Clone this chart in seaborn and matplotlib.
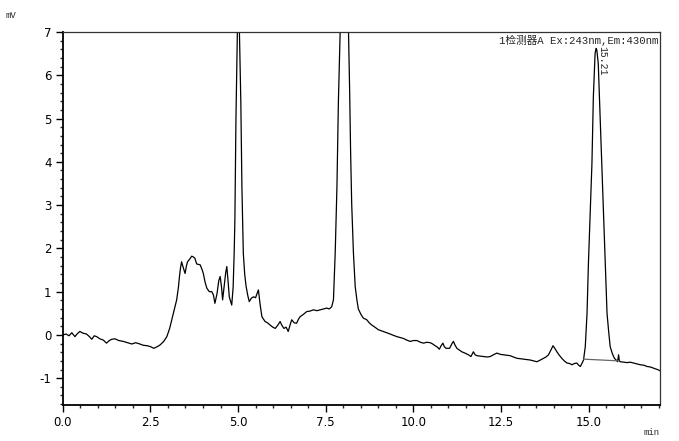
import matplotlib
matplotlib.use('Agg')
import matplotlib.pyplot as plt
import seaborn as sns
from matplotlib.ticker import MultipleLocator, FormatStrFormatter

# chromatogram trace (min, mV); the two big peaks run off scale
time_min = [
    0.00, 0.10, 0.18, 0.26, 0.35, 0.42, 0.49, 0.58, 0.68, 0.75, 0.83, 0.90, 0.97,
    1.06, 1.16, 1.25, 1.33, 1.40, 1.49, 1.60, 1.73, 1.85, 1.97, 2.08, 2.20, 2.30,
    2.41, 2.50, 2.60, 2.70, 2.78, 2.88, 2.97, 3.05, 3.11, 3.18, 3.25, 3.30, 3.33,
    3.36, 3.39, 3.44, 3.49, 3.53, 3.56, 3.62, 3.68, 3.73, 3.77, 3.82, 3.92, 3.97,
    4.01, 4.06, 4.11, 4.18, 4.25, 4.30, 4.34, 4.40, 4.45, 4.49, 4.53, 4.56, 4.60,
    4.65, 4.68, 4.72, 4.75, 4.80, 4.82, 4.86, 4.89, 4.91, 4.94, 4.98, 5.01, 5.04,
    5.08, 5.11, 5.15, 5.19, 5.23, 5.28, 5.32, 5.38, 5.44, 5.50, 5.54, 5.58, 5.63,
    5.68, 5.77, 5.84, 5.91, 5.99, 6.06, 6.13, 6.20, 6.25, 6.31, 6.37, 6.43, 6.48,
    6.53, 6.60, 6.67, 6.72, 6.77, 6.87, 6.96, 7.05, 7.15, 7.25, 7.34, 7.44, 7.53,
    7.60, 7.67, 7.72, 7.77, 7.82, 7.86, 7.91, 8.03, 8.15, 8.18, 8.21, 8.24, 8.29,
    8.34, 8.39, 8.43, 8.50, 8.57, 8.67, 8.74, 8.81, 8.90, 9.00, 9.07, 9.14, 9.24,
    9.34, 9.43, 9.53, 9.62, 9.71, 9.81, 9.91, 10.00, 10.10, 10.20, 10.29, 10.38,
    10.48, 10.55, 10.62, 10.68, 10.74, 10.79, 10.84, 10.88, 10.93, 11.03, 11.10,
    11.14, 11.19, 11.24, 11.31, 11.38, 11.47, 11.57, 11.64, 11.71, 11.76, 11.81,
    11.90, 12.00, 12.10, 12.19, 12.28, 12.38, 12.48, 12.57, 12.66, 12.76, 12.85,
    12.95, 13.05, 13.14, 13.24, 13.33, 13.43, 13.52, 13.62, 13.71, 13.78, 13.85,
    13.92, 13.98, 14.04, 14.09, 14.16, 14.23, 14.30, 14.38, 14.45, 14.52, 14.59,
    14.66, 14.71, 14.76, 14.81, 14.85, 14.90, 14.95, 14.99, 15.04, 15.09, 15.13,
    15.18, 15.21, 15.23, 15.27, 15.32, 15.37, 15.42, 15.47, 15.52, 15.57, 15.61,
    15.67, 15.73, 15.78, 15.82, 15.85, 15.87, 15.90, 16.00, 16.09, 16.18, 16.28,
    16.38, 16.47, 16.57, 16.66, 16.75, 16.85, 16.92, 16.99, 17.03,
]
signal_mv = [
    0.00, 0.02, -0.02, 0.05, -0.04, 0.03, 0.08, 0.04, 0.02, -0.03, -0.10, -0.02, -0.04,
    -0.09, -0.12, -0.19, -0.13, -0.10, -0.09, -0.13, -0.15, -0.18, -0.21, -0.18, -0.21, -0.24,
    -0.25, -0.27, -0.31, -0.27, -0.23, -0.15, -0.04, 0.15, 0.35, 0.58, 0.81, 1.10, 1.35,
    1.55, 1.69, 1.55, 1.42, 1.60, 1.69, 1.75, 1.82, 1.80, 1.77, 1.64, 1.62, 1.52,
    1.42, 1.22, 1.08, 1.00, 1.00, 0.92, 0.73, 0.95, 1.25, 1.35, 1.10, 0.81, 1.10,
    1.45, 1.58, 1.20, 0.88, 0.75, 0.69, 1.10, 1.90, 2.66, 4.97, 6.97, 9.50, 6.97,
    5.36, 3.43, 1.89, 1.40, 1.12, 0.90, 0.77, 0.85, 0.88, 0.86, 0.95, 1.04, 0.70,
    0.42, 0.31, 0.28, 0.23, 0.18, 0.15, 0.22, 0.31, 0.22, 0.15, 0.18, 0.08, 0.22,
    0.35, 0.28, 0.27, 0.36, 0.42, 0.48, 0.54, 0.55, 0.58, 0.56, 0.58, 0.60, 0.62,
    0.60, 0.65, 0.81, 1.89, 3.43, 5.35, 6.97, 12.00, 6.97, 5.73, 4.20, 3.04, 1.89,
    1.12, 0.80, 0.60, 0.48, 0.39, 0.35, 0.28, 0.23, 0.18, 0.12, 0.10, 0.08, 0.05,
    0.02, -0.01, -0.04, -0.06, -0.08, -0.12, -0.15, -0.13, -0.13, -0.17, -0.19, -0.17,
    -0.18, -0.21, -0.25, -0.28, -0.33, -0.25, -0.19, -0.27, -0.31, -0.31, -0.20,
    -0.15, -0.24, -0.31, -0.35, -0.39, -0.42, -0.46, -0.50, -0.39, -0.46, -0.48,
    -0.49, -0.50, -0.51, -0.50, -0.46, -0.42, -0.45, -0.46, -0.47, -0.48, -0.51,
    -0.54, -0.55, -0.56, -0.57, -0.58, -0.60, -0.62, -0.58, -0.54, -0.51, -0.46,
    -0.35, -0.25, -0.32, -0.39, -0.47, -0.54, -0.60, -0.65, -0.66, -0.69, -0.66,
    -0.65, -0.70, -0.73, -0.65, -0.58, -0.27, 0.50, 1.66, 2.81, 3.97, 5.50,
    6.51, 6.62, 6.58, 6.27, 5.12, 3.97, 2.81, 1.66, 0.50, 0.05, -0.27,
    -0.43, -0.54, -0.58, -0.62, -0.46, -0.60, -0.62, -0.63, -0.64, -0.63, -0.65,
    -0.67, -0.69, -0.70, -0.73, -0.74, -0.77, -0.79, -0.81, -0.83,
]

# integration baseline under the 15.21 min peak
baseline_t = [14.85, 15.85]
baseline_mv = [-0.56, -0.60]

peak_rt = 15.21
peak_height = 6.62
detector_label = '1检测器A Ex:243nm,Em:430nm'

sns.set_style('white')
plt.rcParams['font.family'] = ['DejaVu Sans', 'Noto Sans CJK SC']
plt.rcParams['axes.unicode_minus'] = False

fig = plt.figure(figsize=(6.79, 4.41), dpi=100)
ax = fig.add_axes([0.0923, 0.0816, 0.8797, 0.8458])

sns.lineplot(x=time_min, y=signal_mv, ax=ax, color='black', lw=0.9,
             estimator=None, sort=False)
sns.lineplot(x=baseline_t, y=baseline_mv, ax=ax, color='#666666', lw=0.9,
             estimator=None, sort=False)

ax.set_xlim(0, 17.03)
ax.set_ylim(-1.62, 7.0)

# axis ticks like the instrument software
ax.xaxis.set_major_locator(MultipleLocator(2.5))
ax.xaxis.set_minor_locator(MultipleLocator(0.5))
ax.xaxis.set_major_formatter(FormatStrFormatter('%.1f'))
ax.yaxis.set_major_locator(MultipleLocator(1))
ax.yaxis.set_minor_locator(MultipleLocator(0.2))
ax.tick_params(which='major', direction='out', length=5, width=1, labelsize=8.5,
               colors='black', pad=3, bottom=True, left=True)
ax.tick_params(which='minor', direction='out', length=2.5, width=1,
               bottom=True, left=True)

for side in ['top', 'right']:
    ax.spines[side].set_color('#333333')
    ax.spines[side].set_linewidth(0.9)
for side in ['left', 'bottom']:
    ax.spines[side].set_color('black')
    ax.spines[side].set_linewidth(1.3)

ax.set_xlabel('')
ax.set_ylabel('')

mono = ['Liberation Mono', 'Noto Sans CJK SC']
fig.text(0.008, 0.965, 'mV', fontsize=6.5, family=mono, ha='left', va='center')
fig.text(0.972, 0.02, 'min', fontsize=6.5, family=mono, ha='right', va='center')

ax.text(0.997, 0.993, detector_label, transform=ax.transAxes, fontsize=7.7,
        family=mono, ha='right', va='top')
ax.text(peak_rt + 0.17, peak_height + 0.05, f'{peak_rt:.2f}', rotation=270,
        fontsize=7, family=mono, ha='center', va='top')

fig.savefig('out.png', dpi=100)
